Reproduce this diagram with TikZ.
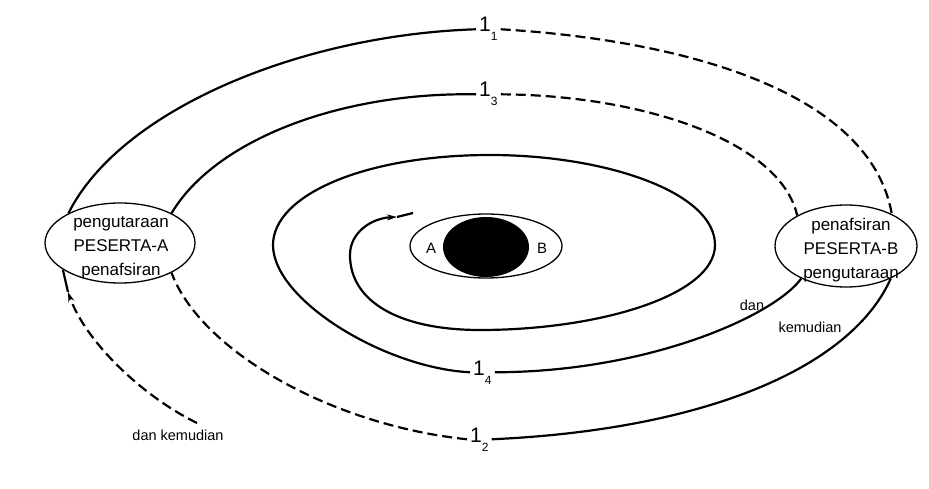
\documentclass[tikz,border=0pt]{standalone}
\usepackage{fontspec}
\setmainfont{Liberation Sans}
\usetikzlibrary{shapes.geometric,arrows.meta}
\newcommand{\onesub}[1]{1\raisebox{-9pt}{\fontsize{12}{12}\selectfont #1}}
\begin{document}
\begin{tikzpicture}[x=1pt,y=-1pt,
  curve/.style={line width=2.2pt, black},
  dashcurve/.style={curve, dash pattern=on 10pt off 5pt},
  party/.style={ellipse, draw, line width=1.3pt, minimum width=150pt, minimum height=80pt, inner sep=0pt},
  partytext/.style={align=center, inner sep=0pt, font=\fontsize{17}{24}\selectfont},
  sublab/.style={font=\fontsize{21}{21}\selectfont, inner xsep=3pt, inner ysep=1pt, anchor=base west},
  note/.style={font=\fontsize{14.5}{16}\selectfont},
  tip/.style={-{Stealth[length=10pt,width=6pt]}}
]
\useasboundingbox (0,0) rectangle (929,489);
% participants
\node[party] (pa) at (120,243) {};
\node[partytext] (pat) at (121,248) {pengutaraan\\PESERTA-A\\penafsiran};
\node[party, minimum width=142pt, minimum height=82pt] (pb) at (846,246) {};
\node[partytext] (pbt) at (851,250) {penafsiran\\PESERTA-B\\pengutaraan};
% centre
\node[ellipse, draw, line width=1.3pt, minimum width=152pt, minimum height=64pt, inner sep=0pt] (ab) at (486,246) {};
\node[ellipse, fill=black, minimum width=86pt, minimum height=60pt, inner sep=0pt] (core) at (486,247) {};
\node[note, font=\fontsize{15}{16}\selectfont] (la) at (431,248) {A};
\node[note, font=\fontsize{15}{16}\selectfont] (lb) at (542,248) {B};
% labels
\node[sublab] (l1) at (476,32) {\onesub{1}};
\node[sublab] (l3) at (476,97) {\onesub{3}};
\node[sublab] (l4) at (470,375) {\onesub{4}};
\node[sublab] (l2) at (467,442) {\onesub{2}};
\node[note] (tdk) at (178,435) {dan kemudian};
\node[note] (tdan) at (752,305) {dan};
\node[note] (tkem) at (810,327) {kemudian};
% coordinates
\coordinate (dk1) at (197,423);
\coordinate (ar) at (68,292);
\coordinate (w1) at (273,245);
\coordinate (w2) at (490,155);
\coordinate (w3) at (715,245);
\coordinate (w4) at (480,330);
\coordinate (w5) at (350,255);
\coordinate (sp) at (397,217);
\coordinate (spend) at (413,213);
% 1_1
\draw[curve] (pa.150) .. controls (120,110) and (300,35) .. (l1.west);
\draw[dashcurve] (l1.east) .. controls (680,40) and (870,90) .. (pb.35);
% 1_3
\draw[curve] (pa.30) .. controls (215,140) and (340,92) .. (l3.west);
\draw[dashcurve] (l3.east) .. controls (640,95) and (780,140) .. (pb.148);
% 1_2
\draw[curve] (pb.-36) .. controls (850,370) and (700,430) .. (l2.east);
\draw[dashcurve] (l2.west) .. controls (330,425) and (200,350) .. (pa.-30);
% dan kemudian
\draw[dashcurve, tip] (dk1) .. controls (140,395) and (85,340) .. (ar);
\draw[curve] (ar) -- (pa.205);
% 1_4 and spiral
\draw[curve] (pb.216) .. controls (775,315) and (650,372) .. (l4.east);
\draw[curve, tip] (l4.west) .. controls (385,368) and (273,300) .. (w1)
  .. controls (273,195) and (365,155) .. (w2)
  .. controls (605,155) and (715,192) .. (w3)
  .. controls (715,295) and (600,330) .. (w4)
  .. controls (400,330) and (350,302) .. (w5)
  .. controls (350,232) and (372,218) .. (sp);
\draw[curve] (sp) -- (spend);
\end{tikzpicture}
\end{document}
